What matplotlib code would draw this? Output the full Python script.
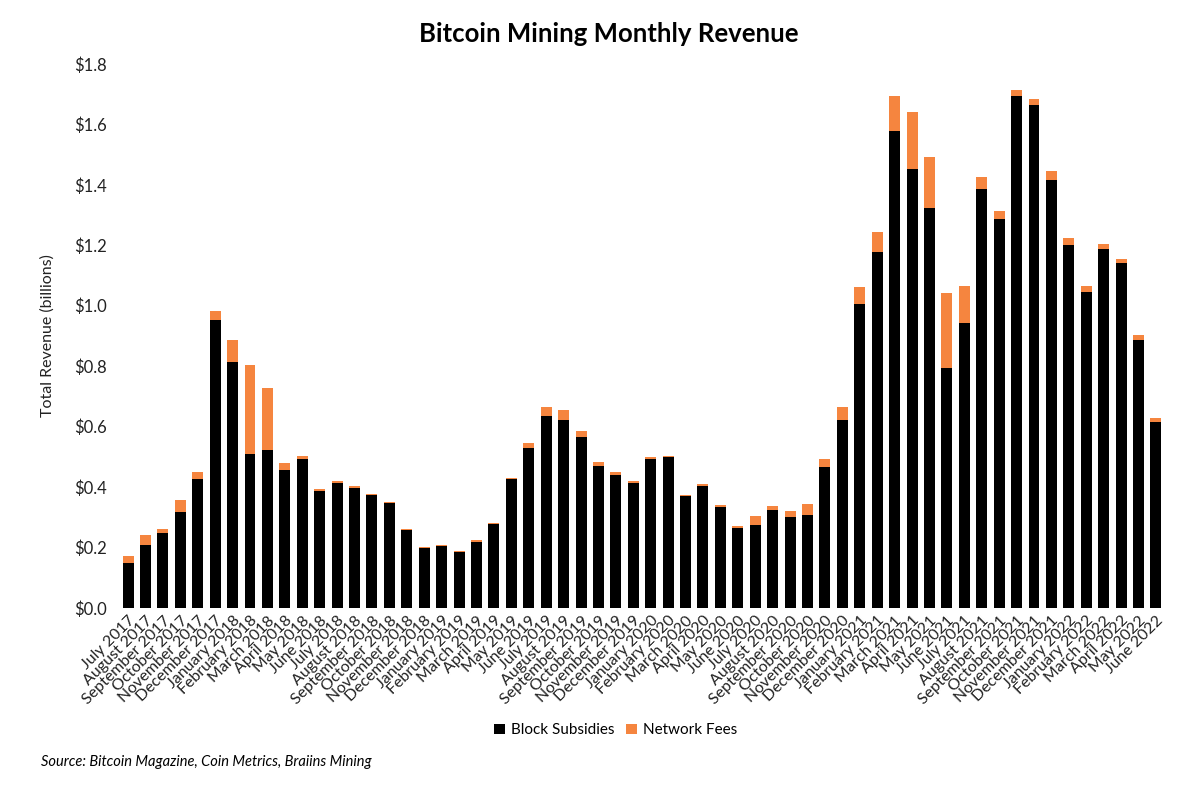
import matplotlib
matplotlib.use("Agg")
from matplotlib import pyplot as plt
import numpy as np

months = ["July 2017", "August 2017", "September 2017", "October 2017", "November 2017", "December 2017",
          "January 2018", "February 2018", "March 2018", "April 2018", "May 2018", "June 2018",
          "July 2018", "August 2018", "September 2018", "October 2018", "November 2018", "December 2018",
          "January 2019", "February 2019", "March 2019", "April 2019", "May 2019", "June 2019",
          "July 2019", "August 2019", "September 2019", "October 2019", "November 2019", "December 2019",
          "January 2020", "February 2020", "March 2020", "April 2020", "May 2020", "June 2020",
          "July 2020", "August 2020", "September 2020", "October 2020", "November 2020", "December 2020",
          "January 2021", "February 2021", "March 2021", "April 2021", "May 2021", "June 2021",
          "July 2021", "August 2021", "September 2021", "October 2021", "November 2021", "December 2021",
          "January 2022", "February 2022", "March 2022", "April 2022", "May 2022", "June 2022"]

# billions USD
subsidies = [0.148, 0.209, 0.247, 0.319, 0.427, 0.953, 0.813, 0.511, 0.522, 0.458, 0.492, 0.386,
             0.413, 0.397, 0.374, 0.348, 0.258, 0.198, 0.204, 0.186, 0.219, 0.277, 0.427, 0.529,
             0.635, 0.621, 0.567, 0.470, 0.439, 0.413, 0.492, 0.499, 0.371, 0.405, 0.333, 0.266,
             0.274, 0.325, 0.300, 0.307, 0.466, 0.621, 1.005, 1.178, 1.578, 1.454, 1.323, 0.794,
             0.944, 1.386, 1.288, 1.695, 1.665, 1.416, 1.201, 1.046, 1.189, 1.141, 0.887, 0.616]
fees = [0.024, 0.033, 0.014, 0.037, 0.022, 0.029, 0.074, 0.293, 0.207, 0.022, 0.011, 0.008,
        0.007, 0.007, 0.003, 0.004, 0.003, 0.003, 0.004, 0.004, 0.005, 0.003, 0.004, 0.016,
        0.030, 0.033, 0.019, 0.014, 0.011, 0.007, 0.008, 0.004, 0.003, 0.004, 0.008, 0.006,
        0.029, 0.013, 0.022, 0.038, 0.026, 0.044, 0.056, 0.067, 0.117, 0.187, 0.168, 0.247,
        0.121, 0.041, 0.026, 0.018, 0.018, 0.030, 0.022, 0.019, 0.014, 0.014, 0.016, 0.012]

plt.rcParams['font.family'] = ['Lato', 'DejaVu Sans']

fig = plt.figure(figsize=(12, 7.87), dpi=100)
ax = fig.add_axes([0.098, 0.2275, 0.874, 0.6912])

x = np.arange(len(months))
ax.bar(x, subsidies, width=0.63, color="#000000", label="Block Subsidies")
ax.bar(x, fees, width=0.63, bottom=subsidies, color="#F5853F", label="Network Fees")

ax.set_xlim(-0.6, len(months) - 0.4)
ax.set_ylim(0, 1.8)
ax.set_yticks(np.arange(0, 1.81, 0.2))
ax.set_yticklabels([f"${v:.1f}" for v in np.arange(0, 1.81, 0.2)], fontsize=12, color="#222222")
ax.set_xticks(x)
ax.set_xticklabels(months, rotation=45, ha="right", rotation_mode="anchor", fontsize=11.5, color="#222222")
ax.tick_params(length=0, pad=8)
ax.tick_params(axis="x", pad=4)
for s in ax.spines.values():
    s.set_visible(False)

ax.set_ylabel("Total Revenue (billions)", fontsize=11.5, color="#222222", labelpad=14)

fig.text(0.507, 0.957, "Bitcoin Mining Monthly Revenue", ha="center", va="center",
         fontsize=18.5, fontweight="bold")
fig.legend(loc="center", bbox_to_anchor=(0.513, 0.072), ncol=2, frameon=False, fontsize=11,
           handlelength=0.7, handleheight=0.7, handletextpad=0.4, columnspacing=0.8)
fig.text(0.034, 0.032, "Source: Bitcoin Magazine, Coin Metrics, Braiins Mining", fontsize=10.5,
         style="italic", va="center")

fig.savefig("out.png", dpi=100, facecolor="white")
